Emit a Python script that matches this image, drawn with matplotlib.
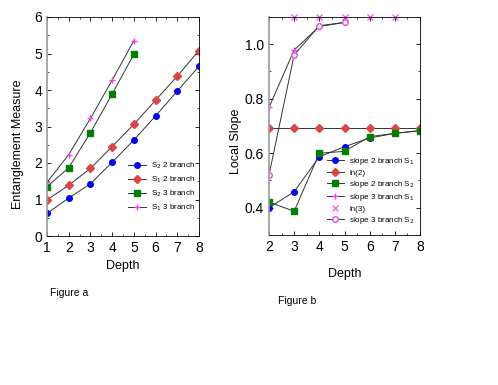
import numpy as np
import matplotlib.pyplot as plt
from matplotlib.ticker import MultipleLocator

plt.rcParams['font.family'] = ['Liberation Sans', 'DejaVu Sans']

# figure a
depth_a = [1, 2, 3, 4, 5, 6, 7, 8]
depth_a3 = [1, 2, 3, 4, 5]
s2_2br = [0.62, 1.04, 1.43, 2.02, 2.63, 3.29, 3.97, 4.65]
s1_2br = [0.99, 1.39, 1.85, 2.45, 3.06, 3.72, 4.38, 5.08]
s2_3br = [1.35, 1.87, 2.83, 3.89, 4.98]
s1_3br = [1.47, 2.23, 3.22, 4.27, 5.35]

# figure b
depth_b = [2, 3, 4, 5, 6, 7, 8]
depth_b3 = [2, 3, 4, 5]
depth_ln3 = [3, 4, 5, 6, 7]
slope2_s1 = [0.40, 0.459, 0.587, 0.624, 0.656, 0.673, 0.683]
slope2_s2 = [0.421, 0.387, 0.60, 0.607, 0.661, 0.673, 0.683]
slope3_s1 = [0.768, 0.979, 1.065, 1.08]
slope3_s2 = [0.52, 0.961, 1.068, 1.08]
ln2 = [np.log(2)] * len(depth_b)
ln3 = [np.log(3)] * len(depth_ln3)

fig = plt.figure(figsize=(4.98, 3.85), dpi=100)
W, H = 498, 385
ax1 = fig.add_axes([47/W, 1-236/H, 152/W, 219/H])
ax2 = fig.add_axes([269/W, 1-235/H, 151/W, 218/H])

lc = '#333333'
ax1.plot(depth_a, s2_2br, '-o', color=lc, lw=0.7, mfc='blue', mec='blue', ms=4, label='S$_2$ 2 branch')
ax1.plot(depth_a, s1_2br, '-D', color=lc, lw=0.7, mfc='#dd4444', mec='#dd4444', ms=4, label='S$_1$ 2 branch')
ax1.plot(depth_a3, s2_3br, '-s', color=lc, lw=0.7, mfc='green', mec='green', ms=4, label='S$_2$ 3 branch')
ax1.plot(depth_a3, s1_3br, '-+', color=lc, lw=0.7, mec='#ee44ee', ms=5, label='S$_1$ 3 branch')
ax1.set_xlim(1, 8)
ax1.set_ylim(0, 6)
ax1.xaxis.set_major_locator(MultipleLocator(1))
ax1.xaxis.set_minor_locator(MultipleLocator(0.5))
ax1.yaxis.set_minor_locator(MultipleLocator(0.5))
ax1.set_xlabel('Depth', fontsize=9)
ax1.set_ylabel('Entanglement Measure', fontsize=9)
ax1.yaxis.set_label_coords(-0.15, 0.42)
ax1.legend(loc='lower right', fontsize=5.8, frameon=False, handlelength=2.2, handletextpad=0.6,
           labelspacing=0.45, bbox_to_anchor=(1.02, 0.07))

ax2.plot(depth_b, slope2_s1, '-o', color=lc, lw=0.7, mfc='blue', mec='blue', ms=4, label='slope 2 branch S$_1$')
ax2.plot(depth_b, ln2, '-D', color=lc, lw=0.7, mfc='#dd4444', mec='#dd4444', ms=4, label='ln(2)')
ax2.plot(depth_b, slope2_s2, '-s', color=lc, lw=0.7, mfc='green', mec='green', ms=4, label='slope 2 branch S$_2$')
ax2.plot(depth_b3, slope3_s1, '-+', color=lc, lw=0.7, mec='#ee44ee', ms=5, label='slope 3 branch S$_1$')
ax2.plot(depth_ln3, ln3, 'x', color='#ee44ee', ms=4, mew=0.8, label='ln(3)', clip_on=False)
ax2.plot(depth_b3, slope3_s2, '-o', color=lc, lw=0.7, mfc='white', mec='#ee44ee', ms=4, label='slope 3 branch S$_2$')
ax2.set_xlim(2, 8)
ax2.set_ylim(0.3, 1.1)
ax2.xaxis.set_major_locator(MultipleLocator(1))
ax2.xaxis.set_minor_locator(MultipleLocator(0.5))
ax2.yaxis.set_major_locator(MultipleLocator(0.2))
ax2.yaxis.set_minor_locator(MultipleLocator(0.1))
ax2.set_xlabel('Depth', fontsize=9, labelpad=10)
ax2.set_ylabel('Local Slope', fontsize=9)
ax2.yaxis.set_label_coords(-0.18, 0.43)
ax2.legend(loc='lower right', fontsize=5.8, frameon=False, handlelength=2.2, handletextpad=0.6,
           labelspacing=0.25, bbox_to_anchor=(1.01, 0.01))

for ax in (ax1, ax2):
    ax.tick_params(which='both', direction='in', top=True, right=True, labelsize=10)
    ax.tick_params(which='major', length=3, width=0.6)
    ax.tick_params(which='minor', length=1.5, width=0.5)
    for s in ax.spines.values():
        s.set_linewidth(0.6)
    ax.spines['left'].set_color('#999999')
    ax.spines['left'].set_linewidth(1.2)

fig.text(50/W, 1-293/H, 'Figure a', fontsize=7.5, va='center')
fig.text(278/W, 1-301/H, 'Figure b', fontsize=7.5, va='center')

fig.savefig('out.png', dpi=100)
